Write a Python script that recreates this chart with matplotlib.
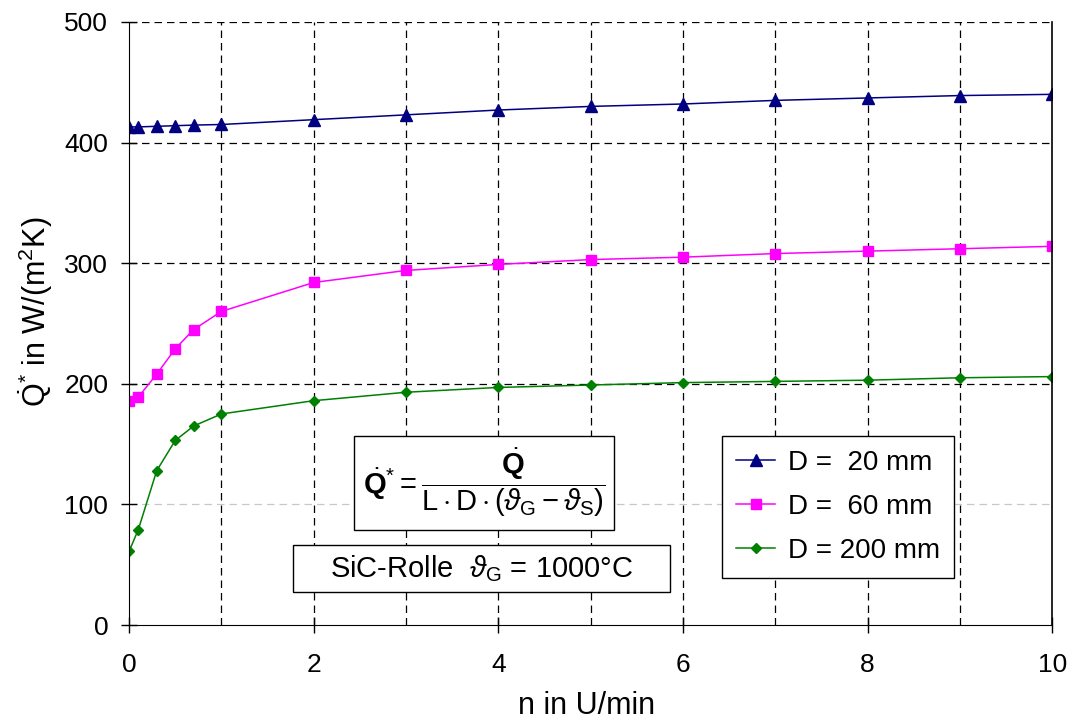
import numpy as np
import matplotlib.pyplot as plt
from matplotlib.patches import Rectangle

plt.rcParams['font.family'] = ['Liberation Sans', 'DejaVu Sans']
plt.rcParams['mathtext.fontset'] = 'custom'
plt.rcParams['mathtext.rm'] = 'Liberation Sans'
plt.rcParams['mathtext.it'] = 'Liberation Sans:italic'
plt.rcParams['mathtext.bf'] = 'Liberation Sans:bold'

# drehzahl n in U/min
n = [0, 0.1, 0.3, 0.5, 0.7, 1, 2, 3, 4, 5, 6, 7, 8, 9, 10]

# Q* in W/(m2K)
q_20 = [413, 413, 413.5, 414, 414.5, 415, 419, 423, 427, 430, 432, 435, 437, 439, 440]
q_60 = [186, 189, 208, 229, 245, 260, 284, 294, 299, 303, 305, 308, 310, 312, 314]
q_200 = [61, 79, 128, 153, 165, 175, 186, 193, 197, 199, 201, 202, 203, 205, 206]

labels = ['D =  20 mm', 'D =  60 mm', 'D = 200 mm']

fig = plt.figure(figsize=(10.78, 7.23), dpi=100)
ax = fig.add_axes([0.1197, 0.1355, 0.8565, 0.8341])

# gitter
for xv in range(1, 10):
    ax.axvline(xv, color='black', ls=(0, (6, 4)), lw=0.9, zorder=0)
for yv in [200, 300, 400, 500]:
    ax.axhline(yv, color='black', ls=(0, (6, 4)), lw=0.9, zorder=0)
ax.axhline(100, color='#c8c8c8', ls=(0, (6, 4)), lw=0.9, zorder=0)

ax.plot(n, q_20, color='#000080', marker='^', ms=8, lw=1.1, label=labels[0])
ax.plot(n, q_60, color='#ff00ff', marker='s', ms=7, lw=1.1, label=labels[1])
ax.plot(n, q_200, color='#008000', marker='D', ms=5, lw=1.1, label=labels[2])

ax.set_xlim(0, 10)
ax.set_ylim(0, 500)
ax.set_xticks([0, 2, 4, 6, 8, 10])
ax.set_yticks([0, 100, 200, 300, 400, 500])
ax.tick_params(labelsize=19, direction='inout', length=12, width=1)
ax.tick_params(axis='x', pad=14)
ax.tick_params(axis='y', pad=9)
ax.spines['top'].set_visible(False)
ax.spines['right'].set_linewidth(1.2)

ax.set_xlabel('n in U/min', fontsize=22)
ax.set_ylabel(r'$\dot{\mathrm{Q}}^{*}$ in W/(m$^2$K)', fontsize=22)
ax.xaxis.set_label_coords(0.495, -0.11)
ax.yaxis.set_label_coords(-0.08, 0.52)

leg = ax.legend(loc='upper left', bbox_to_anchor=(0.6425, 0.3134), borderaxespad=0,
                fontsize=20, fancybox=False, framealpha=1, edgecolor='black',
                borderpad=0.5, labelspacing=0.65, handlelength=1.4, handletextpad=0.45)
leg.get_frame().set_linewidth(1.0)

# kaesten fuer formel und beschriftung
ax.add_patch(Rectangle((0.2438, 0.1575), 0.2817, 0.1559, transform=ax.transAxes,
                       fc='white', ec='black', lw=1.0, zorder=5))
ax.add_patch(Rectangle((0.1777, 0.0547), 0.4084, 0.078, transform=ax.transAxes,
                       fc='white', ec='black', lw=1.0, zorder=5))

formel = (r'$\dot{\mathbf{Q}}^{*} = \dfrac{\dot{\mathbf{Q}}}'
          r'{\mathrm{L}\cdot\mathrm{D}\cdot(\vartheta_{\mathrm{G}} - \vartheta_{\mathrm{S}})}$')
ax.text(0.3847, 0.2355, formel, transform=ax.transAxes, fontsize=21,
        ha='center', va='center', zorder=6)

ax.text(0.3819, 0.0937, r'SiC-Rolle  $\vartheta_{\mathrm{G}}$ = 1000°C', transform=ax.transAxes,
        fontsize=21, ha='center', va='center', zorder=6)

fig.savefig('out.png', dpi=100)
